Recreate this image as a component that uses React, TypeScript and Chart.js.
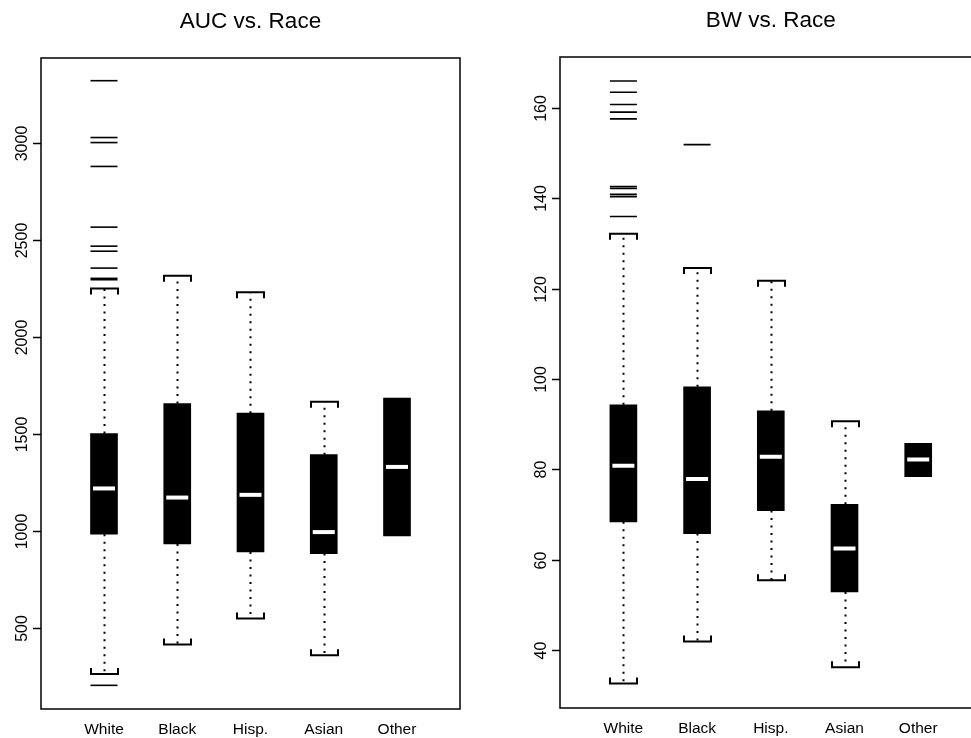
import React, { useEffect, useRef } from "react";
import { Chart, registerables } from "chart.js";

Chart.register(...registerables);

// ---------- data ----------
const races = ["White", "Black", "Hisp.", "Asian", "Other"];
const positions = [1, 2, 3, 4, 5];
const xRange = [0.14, 5.86];

const aucTitle = "AUC vs. Race";
const aucLowerWhisker = [262, 414, 549, 359, null];
const aucQ1 = [983, 933, 892, 883, 974];
const aucMedian = [1219, 1172, 1186, 994, 1330];
const aucQ3 = [1502, 1657, 1607, 1393, 1685];
const aucUpperWhisker = [2250, 2316, 2230, 1666, null];
const aucOutliers = [
  [3321, 3028, 3002, 2879, 2566, 2468, 2442, 2355, 2302, 2295, 204],
  [],
  [],
  [],
  [],
];
const aucTicks = [500, 1000, 1500, 2000, 2500, 3000];
const aucRange = [82, 3438];

const bwTitle = "BW vs. Race";
const bwLowerWhisker = [32.6, 41.9, 55.5, 36.2, null];
const bwQ1 = [68.4, 65.8, 70.9, 52.9, 78.4];
const bwMedian = [80.8, 77.9, 82.8, 62.5, 82.2];
const bwQ3 = [94.3, 98.3, 93.0, 72.3, 85.8];
const bwUpperWhisker = [132.2, 124.6, 121.8, 90.7, null];
const bwOutliers = [
  [166.0, 163.5, 160.8, 159.1, 157.6, 142.6, 142.2, 140.9, 140.4, 136.0],
  [151.9],
  [],
  [],
  [],
];
const bwTicks = [40, 60, 80, 100, 120, 140, 160];
const bwRange = [27.2, 171.3];

// ---------- styling ----------
const FONT = '"Liberation Sans", Arial, Helvetica, sans-serif';
const BOX_W = 27;

type PanelData = {
  title: string;
  lower: (number | null)[];
  q1: number[];
  med: number[];
  q3: number[];
  upper: (number | null)[];
  outliers: number[][];
  ticks: number[];
  range: number[];
};

function makePlugin(d: PanelData, titleBaseline: number) {
  const half = BOX_W / 2;
  return {
    id: "boxPanel",
    beforeDatasetsDraw(chart: any) {
      const { ctx } = chart;
      const x = chart.scales.x;
      const y = chart.scales.y;
      ctx.save();
      ctx.strokeStyle = "#000";
      for (let i = 0; i < positions.length; i++) {
        const px = Math.round(x.getPixelForValue(positions[i])) + 0.5;
        const up = d.upper[i];
        if (up != null) {
          const yq = y.getPixelForValue(d.q3[i]);
          const yw = y.getPixelForValue(up);
          ctx.setLineDash([2, 5.5]);
          ctx.lineWidth = 2;
          ctx.beginPath();
          ctx.moveTo(px, yq);
          ctx.lineTo(px, yw);
          ctx.stroke();
          ctx.setLineDash([]);
          ctx.lineWidth = 2;
          ctx.beginPath();
          ctx.moveTo(px - half, yw + 6);
          ctx.lineTo(px - half, yw);
          ctx.lineTo(px + half, yw);
          ctx.lineTo(px + half, yw + 6);
          ctx.stroke();
        }
        const lo = d.lower[i];
        if (lo != null) {
          const yq = y.getPixelForValue(d.q1[i]);
          const yw = y.getPixelForValue(lo);
          ctx.setLineDash([2, 5.5]);
          ctx.lineWidth = 2;
          ctx.beginPath();
          ctx.moveTo(px, yq);
          ctx.lineTo(px, yw);
          ctx.stroke();
          ctx.setLineDash([]);
          ctx.lineWidth = 2;
          ctx.beginPath();
          ctx.moveTo(px - half, yw - 6);
          ctx.lineTo(px - half, yw);
          ctx.lineTo(px + half, yw);
          ctx.lineTo(px + half, yw - 6);
          ctx.stroke();
        }
      }
      ctx.restore();
    },
    afterDraw(chart: any) {
      const { ctx, chartArea } = chart;
      const x = chart.scales.x;
      const y = chart.scales.y;
      ctx.save();
      // plot box
      ctx.strokeStyle = "#000";
      ctx.lineWidth = 1.5;
      ctx.strokeRect(
        chartArea.left,
        chartArea.top,
        chartArea.right - chartArea.left,
        chartArea.bottom - chartArea.top
      );
      // y ticks
      ctx.fillStyle = "#000";
      ctx.font = `16px ${FONT}`;
      for (const t of d.ticks) {
        const py = Math.round(y.getPixelForValue(t)) + 0.5;
        ctx.beginPath();
        ctx.moveTo(chartArea.left - 8, py);
        ctx.lineTo(chartArea.left, py);
        ctx.stroke();
        ctx.save();
        ctx.translate(chartArea.left - 14, py);
        ctx.rotate(-Math.PI / 2);
        ctx.textAlign = "center";
        ctx.textBaseline = "alphabetic";
        ctx.fillText(String(t), 0, 0);
        ctx.restore();
      }
      // x labels
      ctx.font = `15.5px ${FONT}`;
      ctx.textAlign = "center";
      ctx.textBaseline = "alphabetic";
      for (let i = 0; i < races.length; i++) {
        const px = x.getPixelForValue(positions[i]);
        ctx.fillText(races[i], px, chartArea.bottom + 25);
      }
      // title
      ctx.font = `22.5px ${FONT}`;
      ctx.fillText(d.title, (chartArea.left + chartArea.right) / 2, titleBaseline);
      ctx.restore();
    },
  };
}

function BoxPanel(props: {
  d: PanelData;
  width: number;
  left: number;
  padding: { left: number; right: number; top: number; bottom: number };
  titleBaseline: number;
}) {
  const ref = useRef<HTMLCanvasElement | null>(null);
  const { d, width, left, padding, titleBaseline } = props;
  useEffect(() => {
    if (!ref.current) return;
    const boxes = positions.map((p, i) => ({ x: p, y: [d.q1[i], d.q3[i]] }));
    const medians = positions.map((p, i) => ({ x: p, y: d.med[i] }));
    const outs: { x: number; y: number }[] = [];
    d.outliers.forEach((list, i) => list.forEach((v) => outs.push({ x: positions[i], y: v })));
    const chart = new Chart(ref.current, {
      type: "bar",
      data: {
        datasets: [
          {
            type: "scatter",
            label: "median",
            data: medians,
            pointStyle: "line",
            pointRadius: 11,
            pointBorderWidth: 4,
            pointBorderColor: "#ffffff",
            pointBackgroundColor: "#ffffff",
            borderColor: "#ffffff",
          } as any,
          {
            type: "scatter",
            label: "outliers",
            data: outs,
            pointStyle: "line",
            pointRadius: 13.5,
            pointBorderWidth: 1.6,
            pointBorderColor: "#000",
            pointBackgroundColor: "#000",
            borderColor: "#000",
          } as any,
          {
            type: "bar",
            label: "IQR",
            data: boxes,
            backgroundColor: "#000",
            borderWidth: 0,
            barThickness: BOX_W,
          } as any,
        ],
      },
      options: {
        responsive: false,
        animation: false,
        events: [],
        layout: { padding },
        plugins: { legend: { display: false }, tooltip: { enabled: false } },
        scales: {
          x: {
            type: "linear",
            display: false,
            min: xRange[0],
            max: xRange[1],
            offset: false,
          },
          y: {
            type: "linear",
            display: false,
            min: d.range[0],
            max: d.range[1],
          },
        },
      } as any,
      plugins: [makePlugin(d, titleBaseline)],
    });
    return () => chart.destroy();
  }, []);
  return (
    <canvas
      ref={ref}
      width={width}
      height={738}
      style={{ position: "absolute", left, top: 0, width, height: 738 }}
    />
  );
}

export default function App() {
  const auc: PanelData = {
    title: aucTitle,
    lower: aucLowerWhisker,
    q1: aucQ1,
    med: aucMedian,
    q3: aucQ3,
    upper: aucUpperWhisker,
    outliers: aucOutliers,
    ticks: aucTicks,
    range: aucRange,
  };
  const bw: PanelData = {
    title: bwTitle,
    lower: bwLowerWhisker,
    q1: bwQ1,
    med: bwMedian,
    q3: bwQ3,
    upper: bwUpperWhisker,
    outliers: bwOutliers,
    ticks: bwTicks,
    range: bwRange,
  };
  return (
    <div
      style={{
        position: "fixed",
        left: 0,
        top: 0,
        width: 971,
        height: 738,
        overflow: "hidden",
        background: "#fff",
      }}
    >
      <BoxPanel
        d={auc}
        width={480}
        left={0}
        padding={{ left: 41, right: 20, top: 58, bottom: 29 }}
        titleBaseline={28.3}
      />
      <BoxPanel
        d={bw}
        width={500}
        left={500}
        padding={{ left: 60, right: 18.4, top: 57, bottom: 30 }}
        titleBaseline={27}
      />
    </div>
  );
}
